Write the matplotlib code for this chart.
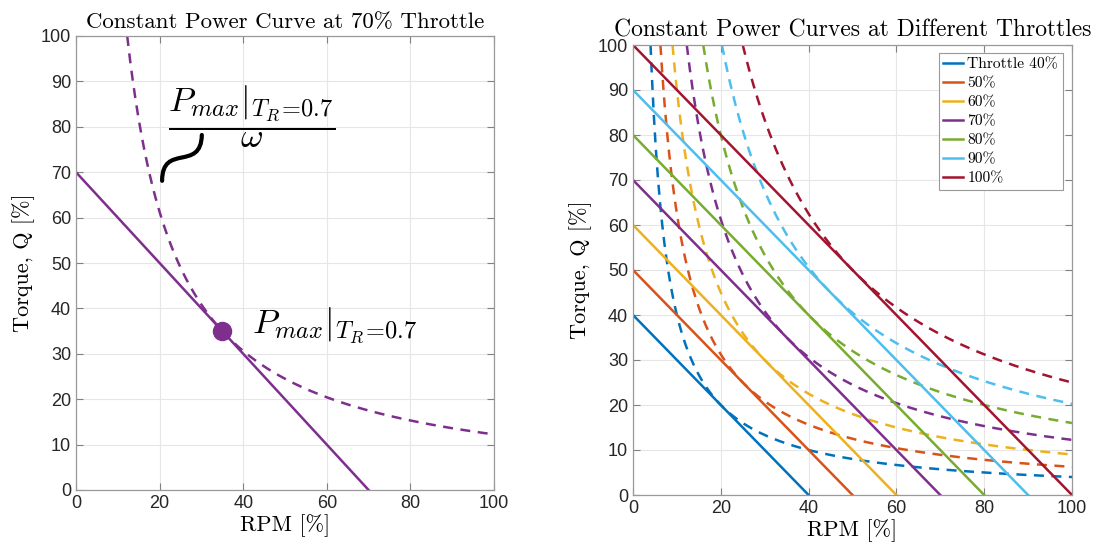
import numpy as np
import matplotlib
matplotlib.use("Agg")
import matplotlib.pyplot as plt
from matplotlib.path import Path
from matplotlib.patches import PathPatch

plt.rcParams['mathtext.fontset'] = 'cm'
plt.rcParams['font.family'] = ['Liberation Sans', 'DejaVu Sans']

# ---- data ----
throttles = [40, 50, 60, 70, 80, 90, 100]          # throttle [%] (torque at 0 RPM)
pmax_vals = [400, 625, 900, 1225, 1600, 2025, 2500]  # max power (Q*RPM) for each throttle
colors = ['#0072BD', '#D95319', '#EDB120', '#7E2F8E', '#77AC30', '#4DBEEE', '#A2142F']
legend_labels = ['Throttle 40%', '50%', '60%', '70%', '80%', '90%', '100%']
left_throttle = 70
left_pmax = 1225
left_point = (35, 35)
ticks = [0, 20, 40, 60, 80, 100]
yticks = [0, 10, 20, 30, 40, 50, 60, 70, 80, 90, 100]

SERIF = 'cmr10'
fig = plt.figure(figsize=(10.98, 5.5), dpi=100)
ax1 = fig.add_axes([76/1098, 1-490/550, (494-76)/1098, (490-36)/550])
ax2 = fig.add_axes([633/1098, 1-495/550, (1072-633)/1098, (495-45)/550])

def style(ax):
    ax.set_xlim(0, 100)
    ax.set_ylim(0, 100)
    ax.set_xticks(ticks)
    ax.set_yticks(yticks)
    ax.grid(True, color='#e6e6e6', linewidth=0.8)
    ax.set_axisbelow(True)
    ax.tick_params(direction='in', top=True, right=True, labelsize=13,
                   color='#808080', length=5, labelcolor='#262626')
    for s in ax.spines.values():
        s.set_color('#999999')
        s.set_linewidth(0.9)
    ax.set_xlabel('RPM [%]', family=SERIF, fontsize=16, labelpad=2)
    ax.set_ylabel('Torque, Q [%]', family=SERIF, fontsize=16, labelpad=4)

style(ax1)
style(ax2)

label = r'P_{max}|_{T_R\!=\!0.7}'

# ---- left panel ----
c = '#7E2F8E'
ax1.plot([0, left_throttle], [left_throttle, 0], color=c, lw=1.8)
xr = np.linspace(left_pmax/100, 100, 400)
ax1.plot(xr, left_pmax/xr, color=c, lw=1.8, ls=(0, (4, 3)))
ax1.plot(*left_point, 'o', color=c, ms=13, zorder=5)
ax1.text(42, 36.3, '$' + label + '$', fontsize=25, va='center', ha='left')
ax1.text(42.0, 82.3, r'$\dfrac{' + label + r'}{\omega}$', fontsize=25, va='center', ha='center')
verts = [(20.6, 68.1), (20.6, 76.5), (29.9, 70.0), (30.1, 78.2)]
path = Path(verts, [Path.MOVETO, Path.CURVE4, Path.CURVE4, Path.CURVE4])
ax1.add_patch(PathPatch(path, fill=False, lw=3, color='black', capstyle='round'))
ax1.set_title('Constant Power Curve at 70% Throttle', family=SERIF, fontsize=16.5, pad=6)

# ---- right panel ----
handles = []
for t, p, col, lab in zip(throttles, pmax_vals, colors, legend_labels):
    h, = ax2.plot([0, t], [t, 0], color=col, lw=1.8, label=lab)
    handles.append(h)
    xr = np.linspace(p/100, 100, 400)
    ax2.plot(xr, p/xr, color=col, lw=1.8, ls=(0, (4, 3)))
leg = ax2.legend(handles=handles, loc='upper right', bbox_to_anchor=(0.979, 0.982),
                 borderaxespad=0,
                 prop={'family': SERIF, 'size': 11.2}, handlelength=1.3,
                 handletextpad=0.25, labelspacing=0.33, borderpad=0.3,
                 fancybox=False, framealpha=1, edgecolor='#999999')
leg.get_frame().set_linewidth(0.8)
ax2.set_title('Constant Power Curves at Different Throttles', family=SERIF, fontsize=17, pad=6)

fig.savefig('out.png', dpi=100)
